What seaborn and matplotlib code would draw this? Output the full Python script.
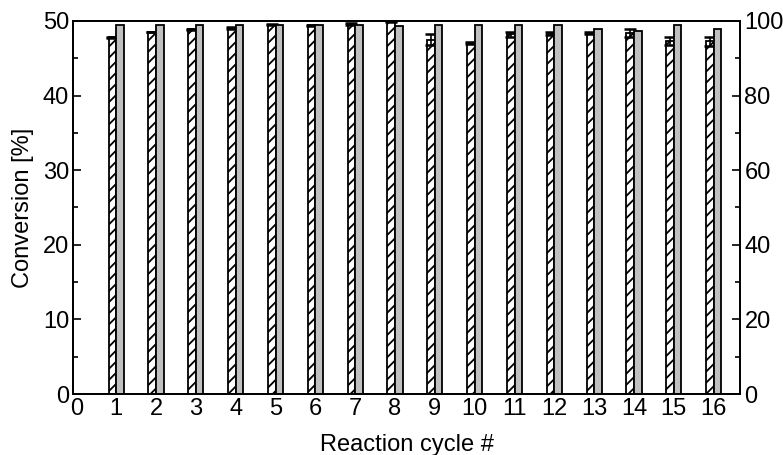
import matplotlib
matplotlib.use("Agg")
import matplotlib.pyplot as plt
import seaborn as sns
import numpy as np
import pandas as pd
from matplotlib.ticker import MultipleLocator

cycles = [1, 2, 3, 4, 5, 6, 7, 8, 9, 10, 11, 12, 13, 14, 15, 16]
conversion = [47.8, 48.5, 48.9, 49.1, 49.5, 49.4, 49.6, 49.9,
              47.5, 47.0, 48.2, 48.3, 48.4, 48.4, 47.3, 47.3]
conversion_err = [0.1, 0.05, 0.05, 0.15, 0.1, 0.05, 0.15, 0.05,
                  0.75, 0.15, 0.3, 0.15, 0.15, 0.5, 0.5, 0.6]
selectivity = [98.9, 98.9, 98.9, 98.9, 98.9, 98.9, 98.8, 98.6,
               98.8, 98.8, 98.9, 98.8, 97.8, 97.4, 99.0, 97.8]
xtick_labels = [str(i) for i in range(0, 17)]

sns.set_theme(style="ticks")
plt.rcParams['font.family'] = ['Liberation Sans', 'DejaVu Sans']
plt.rcParams['hatch.linewidth'] = 1.3
plt.rcParams['text.color'] = 'black'
plt.rcParams['axes.labelcolor'] = 'black'
plt.rcParams['xtick.color'] = 'black'
plt.rcParams['ytick.color'] = 'black'
plt.rcParams['xtick.labelcolor'] = 'black'
plt.rcParams['ytick.labelcolor'] = 'black'

BW = 0.19
df = pd.DataFrame({"cycle": cycles, "conv": conversion, "err": conversion_err, "sel": selectivity})
df["x_conv"] = df["cycle"] - BW / 2
df["x_sel"] = df["cycle"] + BW / 2

fig = plt.figure(figsize=(7.83, 4.55), dpi=100)
ax = fig.add_axes([0.0935, 0.134, 0.852, 0.820])
ax2 = ax.twinx()

sns.barplot(data=df, x="x_conv", y="conv", native_scale=True, width=BW,
            color="white", edgecolor="black", linewidth=1.3, hatch="///",
            errorbar=None, ax=ax, zorder=2)
ax.errorbar(df["x_conv"], df["conv"], yerr=df["err"], fmt="none",
            ecolor="black", elinewidth=1.2, capsize=4, capthick=1.8, zorder=3)
sns.barplot(data=df, x="x_sel", y="sel", native_scale=True, width=BW,
            color="#c0c0c0", edgecolor="black", linewidth=1.3,
            errorbar=None, ax=ax2, zorder=2)
for p in ax2.patches:
    p.set_facecolor("#c0c0c0")

ax.set_xlim(-0.08, 16.67)
ax2.set_xlim(-0.08, 16.67)
ax.set_ylim(0, 50)
ax2.set_ylim(0, 100)
ax.set_xticks(range(0, 17))
ax.set_xticklabels(xtick_labels)

ax.yaxis.set_major_locator(MultipleLocator(10))
ax.yaxis.set_minor_locator(MultipleLocator(5))
ax2.yaxis.set_major_locator(MultipleLocator(20))
ax2.yaxis.set_minor_locator(MultipleLocator(10))

fs = 17
ax.tick_params(axis="x", length=0, pad=3, labelsize=fs, labelcolor="black")
ax.tick_params(axis="y", which="major", direction="in", length=6, width=1.2, pad=3,
               labelsize=fs, color="black", labelcolor="black")
ax.tick_params(axis="y", which="minor", direction="in", length=3.5, width=1.2, color="black")
ax2.tick_params(axis="y", which="major", direction="in", length=6, width=1.2, pad=3,
                labelsize=fs, color="black", labelcolor="black")
ax2.tick_params(axis="y", which="minor", direction="in", length=3.5, width=1.2, color="black")

ax.set_xlabel("Reaction cycle #", fontsize=fs, labelpad=10, color="black")
ax.set_ylabel("Conversion [%]", fontsize=fs, labelpad=6, color="black")
ax2.set_ylabel("")
for a in (ax, ax2):
    for s in a.spines.values():
        s.set_visible(True)
        s.set_linewidth(1.3)
        s.set_color("black")

fig.savefig("out.png", dpi=100)
